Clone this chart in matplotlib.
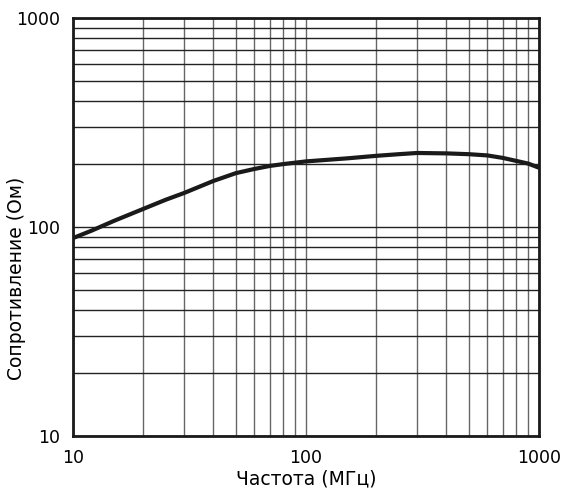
import numpy as np
import matplotlib.pyplot as plt
from matplotlib.ticker import FixedLocator, NullFormatter

# Data
freq_mhz = [10, 12, 15, 20, 25, 30, 40, 50, 60, 70, 80, 100, 150, 200, 250, 300, 400, 500, 600, 700, 800, 900, 1000]
impedance = [88.5, 96, 107, 122, 135, 145.5, 166, 181, 189.5, 196, 200, 206, 213, 219, 223, 226, 225, 223, 220, 214, 207, 201, 192]

x_ticks = [10, 100, 1000]
y_ticks = [10, 100, 1000]

fig = plt.figure(figsize=(5.63, 4.94), dpi=100)
ax = fig.add_axes([0.1297, 0.1174, 0.8277, 0.8462])

ax.plot(freq_mhz, impedance, color='#1a1a1a', linewidth=3,
        solid_capstyle='butt', solid_joinstyle='round')

ax.set_xscale('log')
ax.set_yscale('log')
ax.set_xlim(10, 1000)
ax.set_ylim(10, 1000)

ax.xaxis.set_major_locator(FixedLocator(x_ticks))
ax.yaxis.set_major_locator(FixedLocator(y_ticks))
ax.set_xticklabels([str(v) for v in x_ticks])
ax.set_yticklabels([str(v) for v in y_ticks])
ax.xaxis.set_minor_formatter(NullFormatter())
ax.yaxis.set_minor_formatter(NullFormatter())

ax.grid(True, which='both', axis='x', color='#666666', linewidth=1)
ax.grid(True, which='both', axis='y', color='#222222', linewidth=1)
ax.tick_params(which='both', length=0, labelsize=12.5, pad=9)

for s in ax.spines.values():
    s.set_linewidth(2)
    s.set_color('#1a1a1a')

ax.set_xlabel('Частота (МГц)', fontsize=13.5, labelpad=2)
ax.set_ylabel('Сопротивление (Ом)', fontsize=13.5)
ax.yaxis.set_label_coords(-0.10, 0.376)

fig.savefig('out.png', dpi=100)
